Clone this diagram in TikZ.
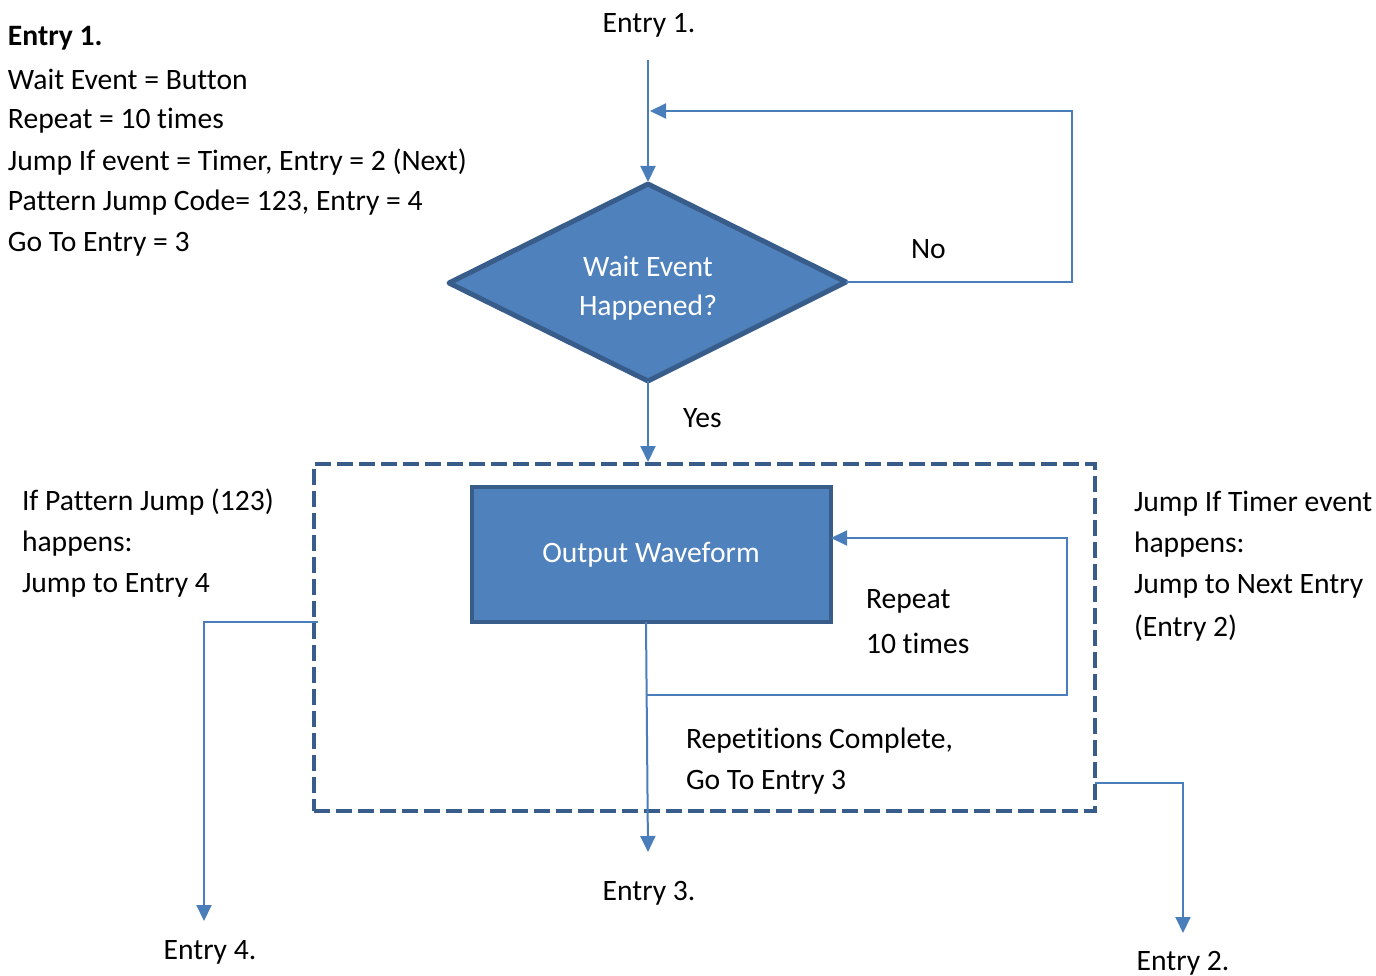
\documentclass[tikz,border=0pt]{standalone}
\usepackage{fontspec}
\setmainfont{Carlito}[Ligatures=NoCommon]
\usetikzlibrary{arrows.meta,shapes.geometric,calc}
\definecolor{fillblue}{HTML}{4F81BD}
\definecolor{edgeblue}{HTML}{385D8A}
\definecolor{lineblue}{HTML}{4A7EBB}
\tikzset{
  every node/.style={font=\fontsize{29.6}{35}\selectfont, inner sep=0pt, outer sep=0pt},
  conn/.style={draw=lineblue, line width=2pt, -{Triangle[width=15pt,length=16pt]}},
  plain/.style={draw=lineblue, line width=2pt},
  blockbox/.style={draw=edgeblue, fill=fillblue, line width=4.5pt, text=white, align=center},
  txt/.style={anchor=west, text=black},
  ctxt/.style={text=black}
}
\begin{document}
\begin{tikzpicture}[x=1pt,y=-1pt]
\useasboundingbox (0,0) rectangle (1376,976);
% left text block
\node[txt] (t0) at (8,38) {\textbf{Entry 1.}};
\node[txt] (t1) at (8,79) {Wait Event = Button};
\node[txt] (t2) at (8,121) {Repeat = 10 times};
\node[txt] (t3) at (8,162) {Jump If event = Timer, Entry = 2 (Next)};
\node[txt] (t4) at (8,203) {Pattern Jump Code= 123, Entry = 4};
\node[txt] (t5) at (8,244) {Go To Entry = 3};
% entry labels
\node[ctxt] (e1) at (649,25) {Entry 1.};
\node[ctxt] (e3) at (649,893) {Entry 3.};
\node[ctxt] (e4) at (210,952) {Entry 4.};
\node[ctxt] (e2) at (1183,963) {Entry 2.};
% diamond
\draw[edgeblue, fill=fillblue, line width=5pt, line join=round]
  (648,184) coordinate (dt) -- (846,282) coordinate (dr) -- (648,381) coordinate (db) -- (449,283) coordinate (dl) -- cycle;
\node[text=white] (dtext1) at (648,266) {Wait Event};
\node[text=white] (dtext2) at (648,308) {Happened?};
% group dashed box
\node[draw=edgeblue, line width=4pt, dash pattern=on 16pt off 6pt, minimum width=781pt, minimum height=347pt, anchor=north west] (grp) at (314,464) {};
% output waveform
\node[blockbox, minimum width=359pt, minimum height=135pt, anchor=north west] (out) at (472,487) {};
\node[text=white] (outtext) at (651,555) {Output Waveform};
% labels
\node[txt] (no) at (911,249) {No};
\node[txt] (yes) at (683,418) {Yes};
\node[txt] (rep1) at (866,601) {Repeat};
\node[txt] (rep2) at (866,643) {10 times};
\node[txt] (rc1) at (686,741) {Repetitions Complete,};
\node[txt] (rc2) at (686,782) {Go To Entry 3};
\node[txt] (lp1) at (22,502) {If Pattern Jump (123)};
\node[txt] (lp2) at (22,544) {happens:};
\node[txt] (lp3) at (22,585) {Jump to Entry 4};
\node[txt] (rt1) at (1134,504) {Jump If Timer event};
\node[txt] (rt2) at (1134,545) {happens:};
\node[txt] (rt3) at (1134,586) {Jump to Next Entry};
\node[txt] (rt4) at (1134,628) {(Entry 2)};
% coordinates
\coordinate (c1) at (648,60);
\coordinate (c1b) at (648,182);
\coordinate (noin) at (650,111);
\coordinate (grptop) at (648,462);
\coordinate (outbot) at (646,622);
\coordinate (split) at (646,695);
\coordinate (e3end) at (648,852);
\coordinate (outin) at (831,538);
\coordinate (lstart) at (318,622);
\coordinate (e4end) at (204,921);
\coordinate (rstart) at (1095,783);
\coordinate (e2end) at (1183,933);
% connectors
\draw[conn] (c1) -- (c1b);
\draw[conn] (dr) -- (1072,282) |- (noin);
\draw[conn] (db) -- (grptop);
\draw[conn] (outbot) -- (e3end);
\draw[conn] (split) -- (1067,695) |- (outin);
\draw[conn] (lstart) -| (e4end);
\draw[conn] (rstart) -| (e2end);
\end{tikzpicture}
\end{document}
